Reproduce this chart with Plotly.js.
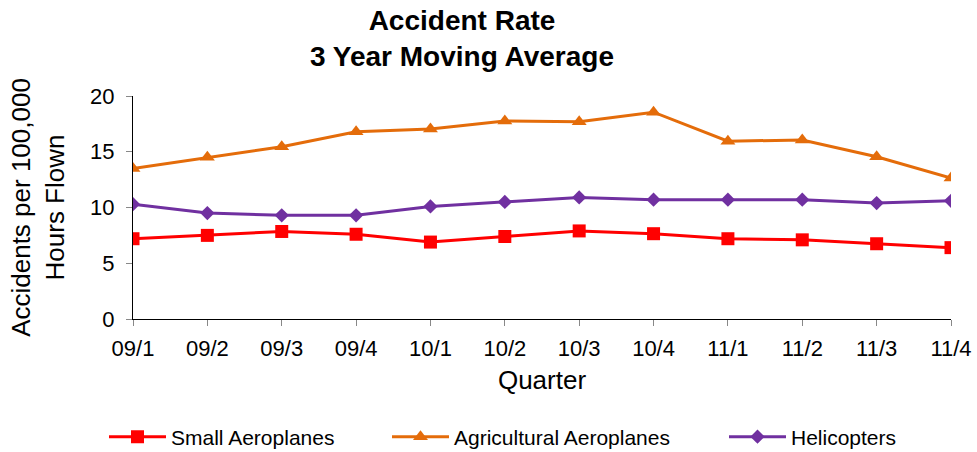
<!DOCTYPE html>
<html><head><meta charset="utf-8">
<script src="https://cdn.plot.ly/plotly-3.0.1.min.js"></script>
<style>body{margin:0;padding:0;background:#fff}#chart{width:977px;height:452px}</style>
</head><body><div id="chart"></div>
<script>
const quarters = ["09/1","09/2","09/3","09/4","10/1","10/2","10/3","10/4","11/1","11/2","11/3","11/4"];
const smallAeroplanes = [7.2, 7.5, 7.85, 7.6, 6.9, 7.4, 7.9, 7.65, 7.2, 7.1, 6.75, 6.4];
const agriculturalAeroplanes = [13.5, 14.5, 15.45, 16.8, 17.05, 17.75, 17.7, 18.55, 15.95, 16.05, 14.55, 12.65];
const helicopters = [10.3, 9.5, 9.3, 9.3, 10.1, 10.5, 10.9, 10.7, 10.7, 10.7, 10.4, 10.6];
const yTicks = [0, 5, 10, 15, 20];

const font = "Liberation Sans, Arial, sans-serif";
const traces = [
  {x: quarters, y: smallAeroplanes, name: "Small Aeroplanes", type: "scatter", mode: "lines+markers", legend: "legend",
   line: {color: "#ff0000", width: 3}, marker: {symbol: "square", size: 13, color: "#ff0000"}},
  {x: quarters, y: agriculturalAeroplanes, name: "Agricultural Aeroplanes", type: "scatter", mode: "lines+markers", legend: "legend2",
   line: {color: "#e46c0a", width: 3}, marker: {symbol: "triangle-up", size: 13, color: "#e46c0a"}},
  {x: quarters, y: helicopters, name: "Helicopters", type: "scatter", mode: "lines+markers", legend: "legend3",
   line: {color: "#7030a0", width: 3}, marker: {symbol: "diamond", size: 11, color: "#7030a0"}}
];
function leg(px) {
  return {orientation: "h", x: px/977, xanchor: "left", xref: "container", y: 1 - 437/452, yanchor: "middle", yref: "container",
          font: {size: 21}, itemwidth: 57, bgcolor: "rgba(0,0,0,0)"};
}
const layout = {
  width: 977, height: 452,
  margin: {l: 133, r: 26, t: 96, b: 133},
  paper_bgcolor: "#fff", plot_bgcolor: "#fff",
  font: {family: font, color: "#000"},
  showlegend: true,
  title: {text: "<b>Accident Rate<br>3 Year Moving Average</b>", font: {size: 28, family: font},
          x: 462/977, xanchor: "center", xref: "container", y: 1 - 30/452, yanchor: "middle", yref: "container"},
  xaxis: {type: "category", range: [0, 11], showline: true, linecolor: "#000", linewidth: 1,
          ticks: "outside", ticklen: 6, tickcolor: "#888", showgrid: false, zeroline: false, ticklabelstandoff: 4,
          tickfont: {size: 22}, title: {text: "Quarter", font: {size: 26}, standoff: 10}},
  yaxis: {range: [0, 20], tickvals: yTicks, showline: true, linecolor: "#000", linewidth: 1,
          ticks: "outside", ticklen: 6, tickcolor: "#888", showgrid: false, zeroline: false, ticklabelstandoff: 7,
          tickfont: {size: 22}, title: {text: "Accidents per 100,000<br>Hours Flown", font: {size: 26}, standoff: 18}},
  legend: leg(104), legend2: leg(387), legend3: leg(724)
};
Plotly.newPlot("chart", traces, layout, {displayModeBar: false, staticPlot: true});
</script></body></html>
